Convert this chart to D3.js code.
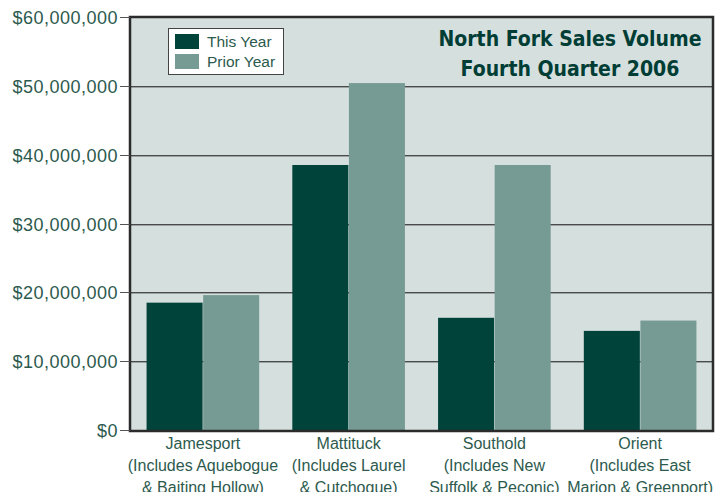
<html>
<head>
  <style>
    body { margin: 0; background: #fff; }
    text { font-family: "Liberation Sans", "DejaVu Sans", sans-serif; }
  </style>
  <script src="https://d3js.org/d3.v7.min.js"></script>
</head>
<body>
  <div id="chart"></div>
  <script type="text/javascript">
    var categories = ["Jamesport", "Mattituck", "Southold", "Orient"];
    var subLabels = [
      ["(Includes Aquebogue", "& Baiting Hollow)"],
      ["(Includes Laurel", "& Cutchogue)"],
      ["(Includes New", "Suffolk & Peconic)"],
      ["(Includes East", "Marion & Greenport)"]
    ];
    var seriesNames = ["This Year", "Prior Year"];
    var thisYear = [18500000, 38500000, 16300000, 14400000];
    var priorYear = [19600000, 50400000, 38500000, 15900000];
    var yTicks = [0, 10000000, 20000000, 30000000, 40000000, 50000000, 60000000];
    var titleLines = ["North Fork Sales Volume", "Fourth Quarter 2006"];

    var colors = ["#00433a", "#769b94"];
    var textColor = "#2d5a4e";

    var W = 719, H = 492;
    var pLeft = 130, pRight = 713, pTop = 17, pBottom = 431;

    var svg = d3.select("#chart").append("svg")
      .attr("width", W)
      .attr("height", H);

    var x = d3.scaleBand().domain(categories).range([pLeft, pRight]).paddingInner(0).paddingOuter(0);
    var x1 = d3.scaleBand().domain(seriesNames).range([16, x.bandwidth() - 16]).padding(0.01);
    var y = d3.scaleLinear().domain([0, 60000000]).range([pBottom - 1, pTop]);

    // plot background
    svg.append("rect")
      .attr("x", pLeft).attr("y", pTop)
      .attr("width", pRight - pLeft).attr("height", pBottom - pTop)
      .attr("fill", "#d5dfde");

    // gridlines (dark line with lighter shadow)
    yTicks.slice(1, -1).forEach(function(t) {
      svg.append("line")
        .attr("x1", pLeft).attr("x2", pRight)
        .attr("y1", Math.round(y(t)) + 1.5).attr("y2", Math.round(y(t)) + 1.5)
        .attr("stroke", "#9aa3a2").attr("stroke-width", 1);
      svg.append("line")
        .attr("x1", pLeft).attr("x2", pRight)
        .attr("y1", Math.round(y(t)) + 0.5).attr("y2", Math.round(y(t)) + 0.5)
        .attr("stroke", "#4a4a4a").attr("stroke-width", 1);
    });

    // bars
    var data = categories.map(function(c, i) {
      return { cat: c, values: [thisYear[i], priorYear[i]] };
    });
    var groups = svg.selectAll("g.grp").data(data).enter().append("g")
      .attr("class", "grp")
      .attr("transform", function(d) { return "translate(" + x(d.cat) + ",0)"; });
    groups.selectAll("rect").data(function(d) {
      return d.values.map(function(v, j) { return { name: seriesNames[j], v: v, j: j }; });
    }).enter().append("rect")
      .attr("x", function(d) { return x1(d.name); })
      .attr("y", function(d) { return y(d.v); })
      .attr("width", x1.bandwidth())
      .attr("height", function(d) { return y(0) - y(d.v); })
      .attr("fill", function(d) { return colors[d.j]; });

    // frame
    svg.append("rect")
      .attr("x", pLeft).attr("y", pTop)
      .attr("width", pRight - pLeft).attr("height", pBottom - pTop)
      .attr("fill", "none").attr("stroke", "#2b2b2b").attr("stroke-width", 2.5);

    // y axis labels + ticks
    yTicks.forEach(function(t) {
      var yy = Math.round(y(t)) + 0.5;
      svg.append("line")
        .attr("x1", pLeft - 10).attr("x2", pLeft)
        .attr("y1", yy).attr("y2", yy)
        .attr("stroke", "#555").attr("stroke-width", 1);
      svg.append("text")
        .attr("x", pLeft - 12).attr("y", yy)
        .attr("dy", "0.35em")
        .attr("text-anchor", "end")
        .attr("fill", textColor)
        .style("font-size", "18px")
        .style("letter-spacing", "0.5px")
        .text(d3.format("$,")(t));
    });

    // category labels
    categories.forEach(function(c, i) {
      var cx = x(c) + x.bandwidth() / 2;
      var lines = [c].concat(subLabels[i]);
      lines.forEach(function(l, k) {
        svg.append("text")
          .attr("x", cx).attr("y", 449 + k * 22)
          .attr("text-anchor", "middle")
          .attr("fill", textColor)
          .style("font-size", "16px")
          .text(l);
      });
    });

    // title
    titleLines.forEach(function(l, k) {
      svg.append("text")
        .attr("x", 570).attr("y", 46 + k * 30)
        .attr("text-anchor", "middle")
        .attr("fill", "#003d35")
        .style("font-size", "21px")
        .style("font-weight", "600")
        .style("font-family", "'DejaVu Sans Condensed', sans-serif")
        .text(l);
    });

    // legend
    var lg = svg.append("g").attr("transform", "translate(168,28)");
    lg.append("rect")
      .attr("x", 0.5).attr("y", 0.5).attr("width", 115).attr("height", 46)
      .attr("fill", "#fff").attr("stroke", "#444").attr("stroke-width", 1);
    seriesNames.forEach(function(n, j) {
      lg.append("rect")
        .attr("x", 7).attr("y", 6 + j * 20)
        .attr("width", 24).attr("height", 15)
        .attr("fill", colors[j]);
      lg.append("text")
        .attr("x", 39).attr("y", 14 + j * 20)
        .attr("dy", "0.35em")
        .attr("fill", textColor)
        .style("font-size", "15.5px")
        .text(n);
    });
  </script>
</body>
</html>
